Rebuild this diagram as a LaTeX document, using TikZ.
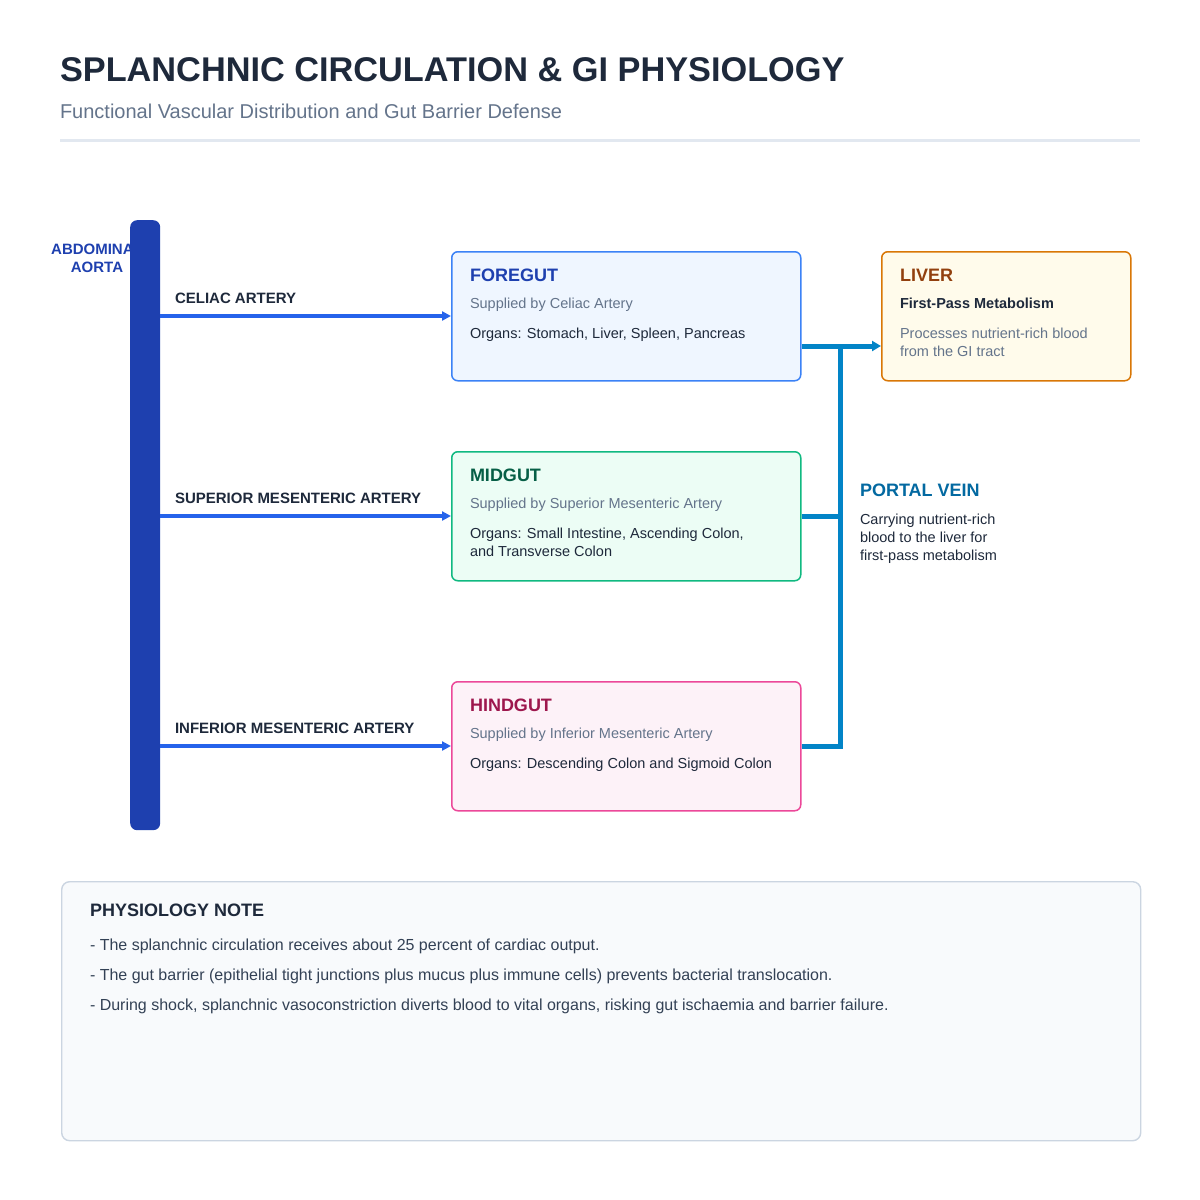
\documentclass[tikz,border=0pt]{standalone}
\usepackage{fontspec}
\setmainfont{Liberation Sans}
\usetikzlibrary{arrows.meta,calc}
\definecolor{ink}{HTML}{1E293B}
\definecolor{muted}{HTML}{64748B}
\definecolor{rulec}{HTML}{E2E8F0}
\definecolor{aortac}{HTML}{1E40AF}
\definecolor{arteryc}{HTML}{2563EB}
\definecolor{foreB}{HTML}{3B82F6}
\definecolor{foreF}{HTML}{EFF6FF}
\definecolor{foreT}{HTML}{1E40AF}
\definecolor{midB}{HTML}{10B981}
\definecolor{midF}{HTML}{ECFDF5}
\definecolor{midT}{HTML}{065F46}
\definecolor{hindB}{HTML}{EC4899}
\definecolor{hindF}{HTML}{FDF2F8}
\definecolor{hindT}{HTML}{9D174D}
\definecolor{livB}{HTML}{D97706}
\definecolor{livF}{HTML}{FFFBEB}
\definecolor{livT}{HTML}{92400E}
\definecolor{portc}{HTML}{0284C7}
\definecolor{portT}{HTML}{0369A1}
\definecolor{noteF}{HTML}{F8FAFC}
\definecolor{noteB}{HTML}{CBD5E1}
\definecolor{noteT}{HTML}{334155}
\tikzset{
  txt/.style={anchor=base west, inner sep=0pt, outer sep=0pt},
  boxst/.style={draw, line width=1.5pt, rounded corners=6pt, inner sep=0pt, anchor=north west},
  artery/.style={draw=arteryc, line width=4pt, -{Triangle[length=9pt,width=9pt]}},
  portal/.style={draw=portc, line width=5pt},
  btitle/.style={txt, font=\fontsize{18}{20}\selectfont\bfseries},
  bsub/.style={txt, font=\fontsize{14.5}{17}\selectfont, text=muted},
  bbody/.style={txt, font=\fontsize{14.5}{17}\selectfont, text=ink},
  alabel/.style={txt, font=\fontsize{15}{17}\selectfont\bfseries, text=ink},
}
\begin{document}
\begin{tikzpicture}[x=1pt,y=-1pt]
\useasboundingbox[fill=white] (0,0) rectangle (1200,1200);
% header
\node[txt, font=\fontsize{34.3}{38}\selectfont\bfseries, text=ink] (title) at (60,81) {SPLANCHNIC CIRCULATION \& GI PHYSIOLOGY};
\node[txt, font=\fontsize{20}{24}\selectfont, text=muted] (subtitle) at (60,118) {Functional Vascular Distribution and Gut Barrier Defense};
\draw[rulec, line width=3pt] (60,140) -- (1140,140);
% aorta label (under bar)
\node[anchor=base, inner sep=0pt, font=\fontsize{15}{17}\selectfont\bfseries, text=aortac] (aortalbl1) at (97,254) {ABDOMINAL};
\node[anchor=base, inner sep=0pt, font=\fontsize{15}{17}\selectfont\bfseries, text=aortac] (aortalbl2) at (97,272) {AORTA};
% aorta
\node[fill=aortac, rounded corners=7pt, minimum width=30pt, minimum height=610pt, inner sep=0pt, anchor=north west] (aorta) at (130,220) {};
% boxes
\node[boxst, draw=foreB, fill=foreF, minimum width=349pt, minimum height=129pt] (fore) at (451,251) {};
\node[boxst, draw=midB, fill=midF, minimum width=349pt, minimum height=129pt] (mid) at (451,451) {};
\node[boxst, draw=hindB, fill=hindF, minimum width=349pt, minimum height=129pt] (hind) at (451,681) {};
\node[boxst, draw=livB, fill=livF, minimum width=249pt, minimum height=129pt] (liver) at (881,251) {};
% arteries
\draw[artery] (aorta.east |- 0,316) -- (fore.west |- 0,316);
\draw[artery] (aorta.east |- 0,516) -- (mid.west |- 0,516);
\draw[artery] (aorta.east |- 0,746) -- (hind.west |- 0,746);
\node[alabel] (celiac) at (175,303.5) {CELIAC ARTERY};
\node[alabel] (sma) at (175,503.5) {SUPERIOR MESENTERIC ARTERY};
\node[alabel] (ima) at (175,733.5) {INFERIOR MESENTERIC ARTERY};
% box texts
\node[btitle, text=foreT] (foreT) at (470,281.5) {FOREGUT};
\node[bsub] (foreS) at (470,308.5) {Supplied by Celiac Artery};
\node[bbody] (foreO) at (470,338.5) {Organs: Stomach, Liver, Spleen, Pancreas};
\node[btitle, text=midT] (midT) at (470,481.5) {MIDGUT};
\node[bsub] (midS) at (470,508.5) {Supplied by Superior Mesenteric Artery};
\node[bbody] (midO1) at (470,538.5) {Organs: Small Intestine, Ascending Colon,};
\node[bbody] (midO2) at (470,556.5) {and Transverse Colon};
\node[btitle, text=hindT] (hindT) at (470,711.5) {HINDGUT};
\node[bsub] (hindS) at (470,738.5) {Supplied by Inferior Mesenteric Artery};
\node[bbody] (hindO) at (470,768.5) {Organs: Descending Colon and Sigmoid Colon};
\node[btitle, text=livT] (livT) at (900,281.5) {LIVER};
\node[bbody, font=\fontsize{14.5}{17}\selectfont\bfseries] (livS) at (900,308.5) {First-Pass Metabolism};
\node[bsub] (livO1) at (900,338.5) {Processes nutrient-rich blood};
\node[bsub] (livO2) at (900,356.5) {from the GI tract};
% portal vein
\coordinate (pvtop) at (840,346);
\coordinate (pvmid) at (840,516);
\coordinate (pvbot) at (840,746);
\draw[portal] (fore.east |- pvtop) -- (pvtop);
\draw[portal] (mid.east |- pvmid) -- (pvmid);
\draw[portal, line join=miter] (hind.east |- pvbot) -- (pvbot) -- ($(pvtop)+(0,-2.5)$);
\draw[portal, -{Triangle[length=9pt,width=10pt]}] (pvtop) -- (liver.west |- pvtop);
\node[btitle, text=portT] (pvT) at (860,496.5) {PORTAL VEIN};
\node[bbody] (pv1) at (860,524.5) {Carrying nutrient-rich};
\node[bbody] (pv2) at (860,542.5) {blood to the liver for};
\node[bbody] (pv3) at (860,560.5) {first-pass metabolism};
% note
\node[draw=noteB, fill=noteF, line width=1.4pt, rounded corners=8pt, minimum width=1079pt, minimum height=259pt, inner sep=0pt, anchor=north west] (note) at (61,881) {};
\node[btitle, text=ink] (noteT) at (90,916.5) {PHYSIOLOGY NOTE};
\node[txt, font=\fontsize{16}{19}\selectfont, text=noteT] (n1) at (90,950) {- The splanchnic circulation receives about 25 percent of cardiac output.};
\node[txt, font=\fontsize{16}{19}\selectfont, text=noteT] (n2) at (90,980) {- The gut barrier (epithelial tight junctions plus mucus plus immune cells) prevents bacterial translocation.};
\node[txt, font=\fontsize{16}{19}\selectfont, text=noteT] (n3) at (90,1010) {- During shock, splanchnic vasoconstriction diverts blood to vital organs, risking gut ischaemia and barrier failure.};
\end{tikzpicture}
\end{document}
